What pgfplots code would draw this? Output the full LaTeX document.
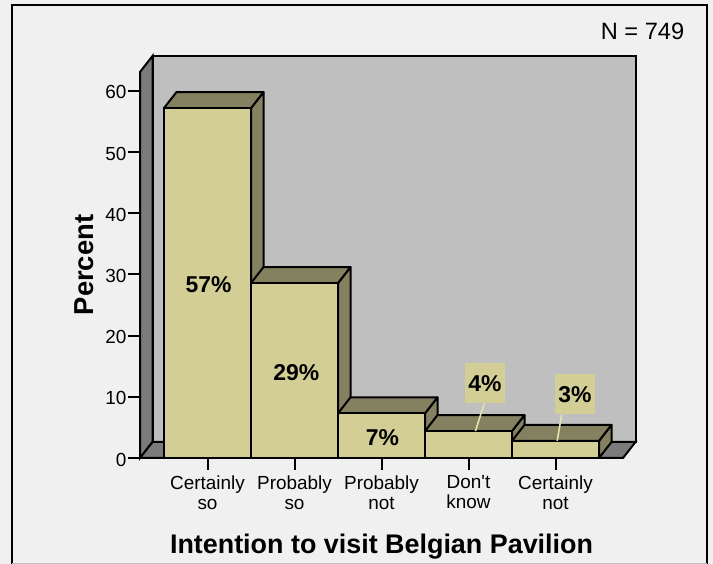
\documentclass[border=0pt]{standalone}
\usepackage{pgfplots}
\pgfplotsset{compat=1.18}
\usepackage{fontspec}
\setmainfont[Ligatures=TeXOff]{Liberation Sans}
\definecolor{bgc}{HTML}{F0F0F0}
\definecolor{wallc}{HTML}{BFBFBF}
\definecolor{sidec}{HTML}{7B7B7B}
\definecolor{barc}{HTML}{D2CE96}
\definecolor{topc}{HTML}{848160}
\definecolor{leadc}{HTML}{E6E2B0}
% xl xr xl+dx xr+dx h h+dy dy
\newcommand\threedbar[7]{%
  \addplot[fill=topc,draw=black,line width=2bp,line join=round] coordinates {(#2,#5)(#4,#6)(#4,#7)(#2,0)} -- cycle;
  \addplot[fill=topc,draw=black,line width=2bp,line join=round] coordinates {(#1,#5)(#3,#6)(#4,#6)(#2,#5)} -- cycle;
  \addplot[fill=barc,draw=black,line width=2bp,line join=round] coordinates {(#1,0)(#1,#5)(#2,#5)(#2,0)} -- cycle;
}
\begin{document}
\begin{tikzpicture}[x=1bp,y=1bp]
\path[use as bounding box] (0,0) rectangle (713,564);
\fill[bgc] (0,0) rectangle (713,564);
\draw[black,line width=2bp] (12,-2) -- (12,559) -- (707,559) -- (707,-2);
\draw[black!25,line width=1bp] (12,0.5) -- (707,0.5);
\begin{axis}[
  at={(140bp,106bp)},anchor=south west,
  scale only axis,width=483bp,height=386bp,
  xmin=-0.776,xmax=4.776,ymin=0,ymax=63.1,
  clip=false,
  axis x line=bottom,axis y line=left,
  axis line style={-,line width=2bp},
  xtick={0,1,2,3,4},
  xticklabels={{Certainly\\so},{Probably\\so},{Probably\\not},{Don't\\know},{Certainly\\not}},
  ytick={0,10,20,30,40,50,60},
  tick style={black,line width=2bp},
  major tick length=12bp,
  tick align=outside,
  /pgf/number format/assume math mode=true,
  tick label style={font=\fontsize{19}{20}\selectfont},
  xticklabel style={align=center,yshift=-2bp},
  yticklabel style={xshift=2bp,yshift=-1.5bp},
]
% back wall
\addplot[fill=wallc,draw=black,line width=2bp] coordinates {(-0.6323,2.616)(-0.6323,65.716)(4.9197,65.716)(4.9197,2.616)} -- cycle;
% left wall
\addplot[fill=sidec,draw=black,line width=2bp] coordinates {(-0.776,0)(-0.776,63.1)(-0.6323,65.716)(-0.6323,2.616)} -- cycle;
% floor
\addplot[fill=sidec,draw=black,line width=2bp] coordinates {(-0.776,0)(-0.6323,2.616)(4.9197,2.616)(4.776,0)} -- cycle;
% bars
\threedbar{-0.5}{0.5}{-0.3563}{0.6437}{57.2}{59.816}{2.616}
\threedbar{0.5}{1.5}{0.6437}{1.6437}{28.6}{31.216}{2.616}
\threedbar{1.5}{2.5}{1.6437}{2.6437}{7.3}{9.916}{2.616}
\threedbar{2.5}{3.5}{2.6437}{3.6437}{4.4}{7.016}{2.616}
\threedbar{3.5}{4.5}{3.6437}{4.6437}{2.8}{5.416}{2.616}
% leader lines
\addplot[leadc,line width=1.6bp] coordinates {(3.18,8.9)(3.08,4.4)};
\addplot[leadc,line width=1.6bp] coordinates {(4.07,7.1)(4.02,2.8)};
\node[font=\fontsize{23}{24}\selectfont\bfseries] at (axis cs:0.012,28.35) {57\%};
\node[font=\fontsize{23}{24}\selectfont\bfseries] at (axis cs:1.02,14) {29\%};
\node[font=\fontsize{23}{24}\selectfont\bfseries] at (axis cs:2.012,3.3) {7\%};
\node[fill=barc,font=\fontsize{23}{24}\selectfont\bfseries,inner sep=0pt,minimum width=40bp,minimum height=40bp] at (axis cs:3.19,12.2) {\raisebox{-1.5bp}{4\%}};
\node[fill=barc,font=\fontsize{23}{24}\selectfont\bfseries,inner sep=0pt,minimum width=40bp,minimum height=40bp,xshift=2bp] at (axis cs:4.2,10.4) {\raisebox{-1.5bp}{3\%}};
\end{axis}
\node[font=\fontsize{23.7}{25}\selectfont,anchor=center] at (642.5,533) {N = 749};
\node[font=\fontsize{27}{29}\selectfont\bfseries,anchor=center] at (381.5,17) {Intention to visit Belgian Pavilion};
\node[font=\fontsize{27.5}{29}\selectfont\bfseries,rotate=90,anchor=center] at (84,299) {Percent};
\end{tikzpicture}
\end{document}
